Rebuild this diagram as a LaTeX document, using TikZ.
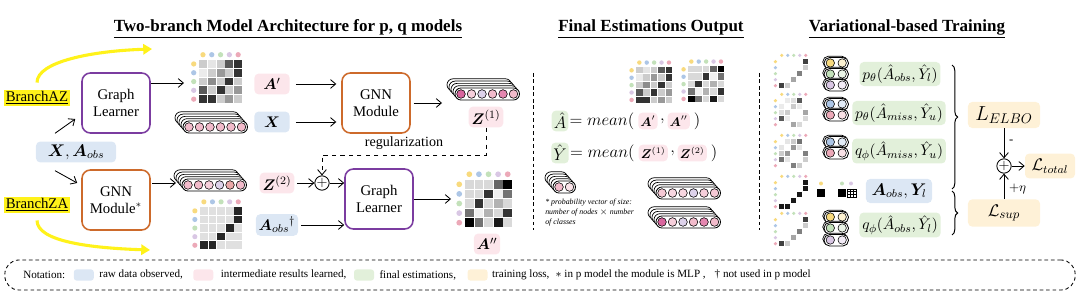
\documentclass[tikz,border=0pt]{standalone}
\usepackage{fontspec}
\setmainfont{Liberation Serif}
\usepackage{amsmath,bm}
\usetikzlibrary{arrows.meta,positioning,calc,decorations.pathreplacing}
\definecolor{rawBlue}{HTML}{DCE7F4}
\definecolor{midPink}{HTML}{FCE6EB}
\definecolor{finGreen}{HTML}{E2F0DA}
\definecolor{lossAmber}{HTML}{FEF1D7}
\definecolor{learnPurple}{HTML}{7B3CA0}
\definecolor{gnnOrange}{HTML}{CD6A2B}
\definecolor{hiYellow}{HTML}{FFF21A}
\definecolor{dotYel}{HTML}{F8DA7E}
\definecolor{dotBlu}{HTML}{ADC6E6}
\definecolor{dotGrn}{HTML}{C3E1BA}
\definecolor{dotPur}{HTML}{D9C7E4}
\definecolor{dotPnk}{HTML}{ECA9B8}
\definecolor{vecPink}{HTML}{F2BBCB}
\definecolor{vecRose}{HTML}{D9669E}
\definecolor{vecLav}{HTML}{DDD2EA}
\definecolor{vecSalmon}{HTML}{EAA8A8}
\definecolor{vecMid}{HTML}{E587B0}

% 5x5 matrix with coloured node dots: left, top, cell size, grey levels (0 = empty)
\newcommand{\adjmat}[4]{%
  \foreach \v [count=\k from 0] in {#4} {
    \pgfmathtruncatemacro{\mr}{floor(\k/5)}
    \pgfmathtruncatemacro{\mc}{mod(\k,5)}
    \ifnum\v>0
      \fill[black!\v] ({#1+\mc*#3},{#2+\mr*#3}) rectangle ++({#3-0.9},{#3-0.9});
    \fi
  }
  \foreach \dc [count=\k from 0] in {dotYel,dotBlu,dotGrn,dotPur,dotPnk} {
    \fill[\dc] ({#1+(\k+0.45)*#3},{#2-0.6*#3}) circle (0.3*#3);
    \fill[\dc] ({#1-0.6*#3},{#2+(\k+0.45)*#3}) circle (0.3*#3);
  }
}

% stacked node vectors: left, top of front layer, number of nodes, colours
\newcommand{\vecstack}[4]{%
  \foreach \s in {4,3,2,1}
    \draw[fill=white, line width=0.5pt, rounded corners=0.15cm]
      ({#1-2*\s},{#2-2.3*\s}) rectangle ++({10.5*#3+1.5},12);
  \draw[fill=white, line width=0.6pt, rounded corners=0.15cm]
    (#1,#2) rectangle ++({10.5*#3+1.5},12);
  \foreach \vc [count=\k from 0] in {#4}
    \draw[fill=\vc, line width=0.4pt] ({#1+6+10.5*\k},{#2+6}) circle (4.3);
}

% two-slot vector (known / unknown): left, centre y, colour
\newcommand{\pairvec}[3]{%
  \draw[fill=white, line width=0.5pt, rounded corners=0.14cm] ({#1-1.2},{#2-6.8}) rectangle ++(24.5,11.5);
  \draw[fill=white, line width=0.6pt, rounded corners=0.14cm] (#1,{#2-5.5}) rectangle ++(24.5,11.5);
  \draw[fill=#3, line width=0.4pt] ({#1+6.3},#2) circle (4.2);
  \draw[fill=#3!35, line width=0.4pt] ({#1+18.2},#2) circle (4.2);
}

\begin{document}
\begin{tikzpicture}[x=0.025cm, y=-0.025cm,
    arr/.style={-{Straight Barb[length=1.3mm,width=2.2mm]}, line width=0.6pt},
    hiarrow/.style={-{Triangle[length=2.2mm,width=2.6mm]}, line width=2.2pt, draw=hiYellow},
    block/.style={rectangle, rounded corners=6pt, fill=white, line width=1.1pt, minimum width=1.7cm, minimum height=1.5cm, align=center, font=\fontsize{10.5}{12}\selectfont},
    learner/.style={block, draw=learnPurple},
    gnnbox/.style={block, draw=gnnOrange},
    tag/.style={rectangle, rounded corners=3pt, inner sep=2pt, minimum height=0.52cm, font=\fontsize{11}{12}\selectfont},
    rawtag/.style={tag, fill=rawBlue},
    midtag/.style={tag, fill=midPink},
    fintag/.style={tag, fill=finGreen},
    losstag/.style={tag, fill=lossAmber},
    eqtag/.style={minimum height=0.42cm, inner sep=1.5pt, font=\fontsize{9}{10}\selectfont},
    eqtext/.style={inner sep=0pt, font=\fontsize{12}{14}\selectfont},
    plus/.style={circle, draw, line width=0.6pt, inner sep=0pt, minimum size=0.32cm, font=\fontsize{10}{10}\selectfont},
    branch/.style={fill=hiYellow, inner sep=1pt, font=\fontsize{10.5}{12}\selectfont},
    heading/.style={font=\fontsize{12.1}{14}\selectfont\bfseries},
    swatch/.style={rectangle, rounded corners=2pt, minimum width=0.5cm, minimum height=0.28cm, inner sep=0pt},
    notetext/.style={inner sep=0pt, font=\fontsize{7.9}{9}\selectfont},
    sep/.style={dash pattern=on 2.6pt off 2pt, line width=0.6pt}
  ]
  \useasboundingbox (0,0) rectangle (1080,294);

  % headings
  \node[heading] (h1) at (288,29) {\underline{Two-branch Model Architecture for p, q models}};
  \node[heading] (h2) at (651,29) {\underline{Final Estimations Output}};
  \node[heading] (h3) at (907,29) {\underline{Variational-based Training}};

  % two-branch model
  \node[branch] (baz) at (37,98) {\underline{BranchAZ}};
  \node[branch] (bza) at (37,205) {\underline{BranchZA}};
  \node[rawtag, minimum width=2cm, font=\fontsize{11.5}{13}\selectfont] (xa) at (76,152) {$\bm{X}, \bm{A}_{obs}$};
  \node[learner] (gl1) at (116,103) {Graph\\Learner};
  \node[gnnbox] (gnn2) at (116,200) {GNN\\Module$^*$};
  \node[midtag, minimum width=0.88cm] (ap) at (272,84) {$\bm{A}'$};
  \node[rawtag, minimum width=0.88cm] (xx) at (272,122) {$\bm{X}$};
  \node[gnnbox] (gnn1) at (376,103) {GNN\\Module};
  \node[midtag] (z1) at (486,117) {$\bm{Z}^{(1)}$};
  \node[midtag] (z2) at (277,183) {$\bm{Z}^{(2)}$};
  \node[rawtag] (aobs) at (277,225) {$\bm{A}_{obs}{}^{\dagger}$};
  \node[plus] (sum) at (322,183) {$+$};
  \node[learner] (gl2) at (379,199) {Graph\\Learner};
  \node[midtag] (app) at (487,244) {$\bm{A}''$};

  \coordinate (apmat) at (184,83);
  \coordinate (z1vec) at (442,103);
  \coordinate (z2vec) at (176,183);
  \coordinate (appmat) at (451,199);
  \coordinate (regturn) at (486,155);
  \coordinate (azend) at (152,49);
  \coordinate (zaend) at (150,250);

  \adjmat{199}{60}{8.8}{20,10,20,65,80, 8,20,40,20,80, 20,45,20,80,20, 65,20,80,20,40, 80,80,20,40,20}
  \vecstack{183}{121}{6}{vecPink,vecPink,vecPink,vecPink,vecPink,vecPink}
  \vecstack{455}{88}{6}{vecRose,vecPink!70,vecLav,vecPink,vecMid,vecPink}
  \vecstack{182}{179}{6}{vecPink,vecPink,vecPink!70,vecLav,vecSalmon,vecPink}
  \adjmat{200}{207}{8.6}{12,12,12,12,85, 12,12,12,12,85, 12,12,12,85,12, 12,12,85,12,12, 85,85,12,12,12}
  \adjmat{465}{180}{9.6}{15,15,15,60,100, 15,15,80,6,55, 15,80,15,30,15, 55,6,30,15,80, 100,55,15,90,15}

  \draw[hiarrow, shorten <=5pt] (baz.north) .. controls +(0,-28) and +(-60,2) .. (azend);
  \draw[hiarrow, shorten <=5pt] (bza.south) .. controls +(0,28) and +(-60,-2) .. (zaend);
  \draw[arr] ($(xa.north)+(-21,-8)$) -- ($(gl1.west)+(-6,16)$);
  \draw[arr] ($(xa.south)+(-21,8)$) -- ($(gnn2.west)+(-4,-17)$);
  \draw[arr] (gl1.east |- apmat) -- (apmat);
  \draw[arr, shorten <=4.3pt, shorten >=3.5pt] (ap) -- (ap -| gnn1.west);
  \draw[arr, shorten <=4.3pt, shorten >=3.5pt] (xx) -- (xx -| gnn1.west);
  \draw[arr, shorten <=2pt] (gnn1) -- (z1vec);
  \draw[arr, shorten <=1pt] (gnn2.east |- z2vec) -- (z2vec);
  \draw[arr, shorten <=2pt] (z2) -- (sum);
  \draw[arr] (sum) -- (sum -| gl2.west);
  \draw[arr, shorten <=2pt] (aobs) -- (aobs -| gl2.west);
  \draw[arr] (gl2) -- (appmat);
  \draw[arr, dashed] (z1.south) -- (regturn) -| node[pos=0.25, above, font=\fontsize{10}{12}\selectfont] {regularization} (sum.north);

  % final estimations
  \draw[sep] (533,73) -- (533,230);
  \draw[sep] (759,73) -- (759,230);
  \adjmat{636}{67}{7.4}{20,10,20,65,80, 8,20,40,20,80, 20,45,20,80,20, 65,20,80,20,40, 80,80,20,40,20}
  \adjmat{688}{66}{7.4}{15,15,15,60,100, 15,15,80,6,55, 15,80,15,30,15, 55,6,30,15,80, 100,55,15,90,15}

  \node[fintag, inner sep=1.5pt, font=\fontsize{12}{14}\selectfont] (ahat) at (560,121) {$\hat{A}$};
  \node[eqtext, right=0.5pt of ahat] (eqa) {$=mean($};
  \node[midtag, eqtag, right=2.5pt of eqa] (ap2) {$\bm{A}'$};
  \node[eqtext, right=1.5pt of ap2] (ca) {$,$};
  \node[midtag, eqtag, right=1.5pt of ca] (app2) {$\bm{A}''$};
  \node[eqtext, right=2.5pt of app2] (ra) {$)$};

  \node[fintag, inner sep=1.5pt, font=\fontsize{12}{14}\selectfont] (yhat) at (560,153) {$\hat{Y}$};
  \node[eqtext, right=0.5pt of yhat] (eqy) {$=mean($};
  \node[midtag, eqtag, right=2.5pt of eqy] (zz1) {$\bm{Z}^{(1)}$};
  \node[eqtext, right=1.5pt of zz1] (cy) {$,$};
  \node[midtag, eqtag, right=1.5pt of cy] (zz2) {$\bm{Z}^{(2)}$};
  \node[eqtext, right=2.5pt of zz2] (ry) {$)$};

  \vecstack{553}{181}{2}{vecPink,vecPink!40}
  \node[anchor=north west, align=left, inner sep=0pt, font=\fontsize{5.6}{7.1}\selectfont\itshape] (fnote) at (545,199) {* probability vector of size:\\number of nodes $\times$ number\\of classes};
  \vecstack{656}{187}{6}{vecPink!80,vecPink!60,vecPink!60,vecLav,vecPink!70,vecPink!80}
  \vecstack{656}{216}{6}{vecRose,vecPink!70,vecLav,vecPink,vecMid,vecPink}

  % variational training
  \adjmat{779}{59}{6}{0,0,0,0,75, 0,0,0,0,20, 0,0,0,50,0, 0,0,35,0,0, 75,20,0,0,0}
  \adjmat{779}{98}{6}{0,8,12,65,0, 8,0,20,8,0, 12,20,0,0,35, 65,8,0,0,15, 0,0,35,15,0}
  \adjmat{779}{139}{6}{0,10,20,55,0, 10,0,40,10,0, 20,40,0,0,50, 55,10,0,0,20, 0,0,50,20,0}
  \adjmat{779}{180}{6}{0,0,0,0,90, 0,0,0,0,90, 0,0,0,90,0, 0,0,90,0,0, 90,90,0,0,0}
  \adjmat{779}{217}{6}{0,0,0,0,75, 0,0,0,0,20, 0,0,0,50,0, 0,0,35,0,0, 75,20,0,0,0}

  \pairvec{824}{63}{dotYel}
  \pairvec{824}{74}{dotGrn}
  \pairvec{824}{85}{dotPur}
  \pairvec{824}{104}{dotBlu}
  \pairvec{824}{115}{dotPnk}
  \pairvec{824}{142}{dotBlu}
  \pairvec{824}{153}{dotPnk}
  \pairvec{824}{217}{dotYel}
  \pairvec{824}{228}{dotGrn}
  \pairvec{824}{240}{dotPur}

  \fill (817,189) rectangle (825,197);
  \fill[dotYel] (821,183.5) circle (2);
  \fill (838,189) rectangle (846,197);
  \fill[dotGrn] (842,183.5) circle (2);
  \fill[dotPur] (851,183.5) circle (2);
  \draw[line width=0.3pt] (847,189) rectangle (856,197) (850,189) -- (850,197) (853,189) -- (853,197)
    (847,191.7) -- (856,191.7) (847,194.3) -- (856,194.3);

  \node[fintag, minimum width=1.93cm, minimum height=0.58cm] (pobs) at (900,74) {$p_\theta(\hat{A}_{obs},\hat{Y}_l)$};
  \node[fintag, minimum width=2.3cm, minimum height=0.6cm] (pmiss) at (899,113) {$p_\theta(\hat{A}_{miss},\hat{Y}_u)$};
  \node[fintag, minimum width=2.3cm, minimum height=0.6cm] (qmiss) at (899,151) {$q_\phi(\hat{A}_{miss},\hat{Y}_u)$};
  \node[rawtag, minimum width=1.65cm, minimum height=0.6cm, font=\fontsize{11.5}{13}\selectfont] (aobsyl) at (899,191) {$\bm{A}_{obs},\bm{Y}_l$};
  \node[fintag, minimum width=1.93cm, minimum height=0.58cm] (qobs) at (900,225) {$q_\phi(\hat{A}_{obs},\hat{Y}_l)$};

  \draw[decorate, decoration={brace, amplitude=4pt, aspect=0.42}, line width=0.7pt] (952,65) -- (952,189);
  \draw[decorate, decoration={brace, amplitude=4pt}, line width=0.7pt] (952,191) -- (952,235);

  \node[losstag, minimum width=1.8cm, minimum height=0.65cm, font=\fontsize{14}{16}\selectfont] (elbo) at (1004,115) {$L_{ELBO}$};
  \node[plus] (sum2) at (1004,166) {$+$};
  \node[losstag, minimum width=1.25cm, minimum height=0.62cm, font=\fontsize{12}{14}\selectfont] (ltotal) at (1050,166) {$\mathcal{L}_{total}$};
  \node[losstag, minimum width=1.8cm, minimum height=0.68cm, font=\fontsize{13}{15}\selectfont] (lsup) at (1004,213) {$\mathcal{L}_{sup}$};
  \draw[arr] (elbo) -- node[right, pos=0.45, font=\fontsize{9}{10}\selectfont] {-} (sum2);
  \draw[arr] (lsup) -- node[right, pos=0.4, font=\fontsize{9}{10}\selectfont] {$+\eta$} (sum2);
  \draw[arr] (sum2) -- (ltotal);

  % notation
  \node[draw, sep, rounded corners=10pt, minimum width=26.75cm, minimum height=0.75cm] (notebox) at (540,275) {};
  \node[notetext, anchor=west] (n0) at (23,275) {Notation:};
  \node[swatch, fill=rawBlue, right=5.7pt of n0] (s1) {};
  \node[notetext, right=3.5pt of s1] (n1) {raw data observed,};
  \node[swatch, fill=midPink, right=7pt of n1] (s2) {};
  \node[notetext, right=5pt of s2] (n2) {intermediate results learned,};
  \node[swatch, fill=finGreen, right=5pt of n2] (s3) {};
  \node[notetext, right=3.5pt of s3] (n3) {final estimations,};
  \node[swatch, fill=lossAmber, right=7.8pt of n3] (s4) {};
  \node[notetext, right=2.8pt of s4] (n4) {training loss,};
  \node[notetext, right=4pt of n4] (n5) {$\ast$ in p model the module is MLP ,};
  \node[notetext, right=6pt of n5] (n6) {\dag\ not used in p model};
\end{tikzpicture}
\end{document}
